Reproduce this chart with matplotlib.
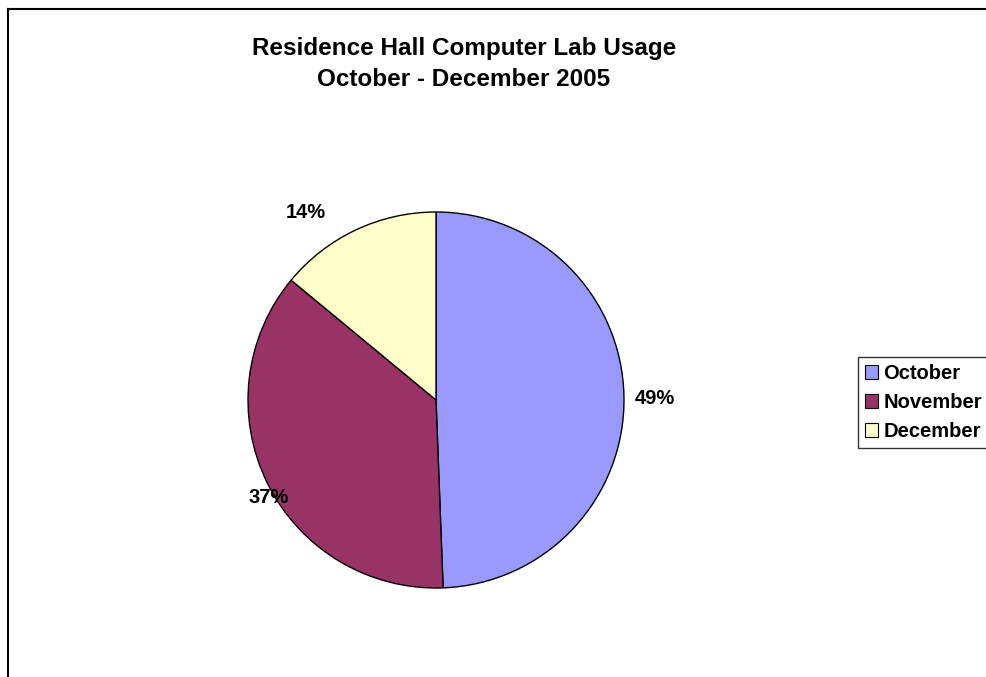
import matplotlib
matplotlib.use("Agg")
from matplotlib import pyplot as plt
from matplotlib.lines import Line2D
from matplotlib.patches import Patch

plt.rcParams['font.family'] = ['Liberation Sans', 'DejaVu Sans']

months = ["October", "November", "December"]
usage = [49.4, 36.6, 14.0]
colors = ["#9999FF", "#993366", "#FFFFCC"]

W, H = 986, 677
fig = plt.figure(figsize=(W / 100, H / 100), dpi=100)

# pie centre (436, 400) px, radius 188 px
cx, cy, r = 436, 400, 188
ax = fig.add_axes([(cx - r) / W, (H - cy - r) / H, 2 * r / W, 2 * r / H])

wedges, texts, autotexts = ax.pie(
    usage, colors=colors, startangle=90, counterclock=False,
    autopct="%1.0f%%", pctdistance=1.15,
    wedgeprops=dict(edgecolor="black", linewidth=1.0),
    textprops=dict(fontsize=14.5, fontweight="bold", color="black"))
ax.set_aspect("equal")
ax.set_xlim(-1, 1)
ax.set_ylim(-1, 1)

# nudge labels to where the reference puts them (units of radius)
label_pos = [(1.165, 0.01), (-0.89, -0.52), (-0.69, 1.0)]
for t, p in zip(autotexts, label_pos):
    t.set_position(p)
    t.set_ha("center")
    t.set_va("center")

fig.text(464 / W, 1 - 64 / H,
         "Residence Hall Computer Lab Usage\nOctober - December 2005",
         ha="center", va="center", fontsize=17.5, fontweight="bold",
         linespacing=1.45)

handles = [Patch(facecolor=c, edgecolor="black", linewidth=0.8) for c in colors]
leg = fig.legend(handles, months, loc="upper left",
                 bbox_to_anchor=(858 / W, 1 - 357 / H),
                 prop=dict(size=14.5, weight="bold"),
                 handlelength=0.65, handleheight=0.65, handletextpad=0.25,
                 labelspacing=0.5, borderpad=0.35, borderaxespad=0,
                 frameon=True, fancybox=False, edgecolor="black")
leg.get_frame().set_linewidth(1.0)

# chart area border (only left and top are visible in the crop)
fig.add_artist(Line2D([8 / W, 8 / W], [0, 1 - 8.5 / H], color="black",
                      linewidth=1.5, transform=fig.transFigure))
fig.add_artist(Line2D([7.5 / W, 1], [1 - 8.5 / H, 1 - 8.5 / H], color="black",
                      linewidth=1.5, transform=fig.transFigure))

fig.savefig("out.png", dpi=100)
